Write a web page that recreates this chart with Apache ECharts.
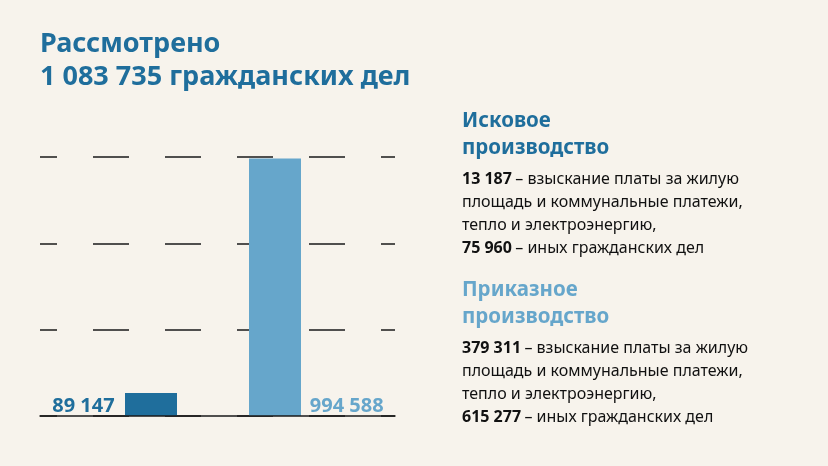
<!DOCTYPE html><html><head><meta charset="utf-8">
<script src="https://cdn.jsdelivr.net/npm/echarts@6/dist/echarts.min.js"></script>
<style>html,body{margin:0;background:#f7f3ec}#c{width:828px;height:466px}</style></head><body><div id="c"></div>
<script>
const categories=['Исковое производство','Приказное производство'];
const values=[89147,994588];
const labels=['89 147','994 588'];
const colors=['#1f6e9c','#66a6cb'];
const dark='#1f6e9c',light='#66a6cb';
const F='"Noto Sans", sans-serif';
const c=echarts.init(document.getElementById('c'));
c.setOption({
backgroundColor:'#f7f3ec',
grid:[{left:40,right:433,top:157,bottom:50},{left:89,width:248,top:157,bottom:50}],
xAxis:[{type:'value',gridIndex:0,min:0,max:1,axisLabel:{show:false},axisTick:{show:false},splitLine:{show:false},axisLine:{show:true,onZero:false,lineStyle:{color:'#1a1a1a',width:1.5}},z:10},
{type:'category',gridIndex:1,data:categories,axisLabel:{show:false},axisTick:{show:false},axisLine:{show:false}}],
yAxis:[{type:'value',gridIndex:0,min:0,max:1000000,interval:1000000/3,axisLabel:{show:false},axisLine:{show:false},axisTick:{show:false},
splitLine:{show:true,lineStyle:{color:'#1a1a1a',width:1.5,type:[36,36],dashOffset:19}}},
{type:'value',gridIndex:1,min:0,max:1000000,show:false}],
series:[{type:'bar',xAxisIndex:1,yAxisIndex:1,barWidth:52,z:5,
data:values.map((v,i)=>({value:v,itemStyle:{color:colors[i]},label:{show:true,position:i?['117%','100%']:['-20%','100%'],align:i?'left':'right',verticalAlign:'bottom',formatter:labels[i],color:colors[i],fontFamily:F,fontWeight:'bold',fontSize:20}}))}],
graphic:[
{type:'text',left:40,top:28,style:{text:'Рассмотрено\n1 083 735 гражданских дел',font:'bold 27px '+F,fill:dark,lineHeight:33}},
{type:'text',left:462,top:111,style:{text:'{h|Исковое\nпроизводство}\n{s|}\n{b|13 187} {t|– взыскание платы за жилую}\n{t|площадь и коммунальные платежи,}\n{t|тепло и электроэнергию,}\n{b|75 960} {t|– иных гражданских дел}',
rich:{h:{font:'bold 20.5px '+F,fill:dark,lineHeight:27},s:{lineHeight:6},b:{font:'bold 16px '+F,fill:'#111',lineHeight:23},t:{font:'16px '+F,fill:'#111',lineHeight:23}}}},
{type:'text',left:462,top:280,style:{text:'{h|Приказное\nпроизводство}\n{s|}\n{b|379 311} {t|– взыскание платы за жилую}\n{t|площадь и коммунальные платежи,}\n{t|тепло и электроэнергию,}\n{b|615 277} {t|– иных гражданских дел}',
rich:{h:{font:'bold 20.5px '+F,fill:light,lineHeight:27},s:{lineHeight:6},b:{font:'bold 16px '+F,fill:'#111',lineHeight:23},t:{font:'16px '+F,fill:'#111',lineHeight:23}}}}
]});
</script></body></html>
